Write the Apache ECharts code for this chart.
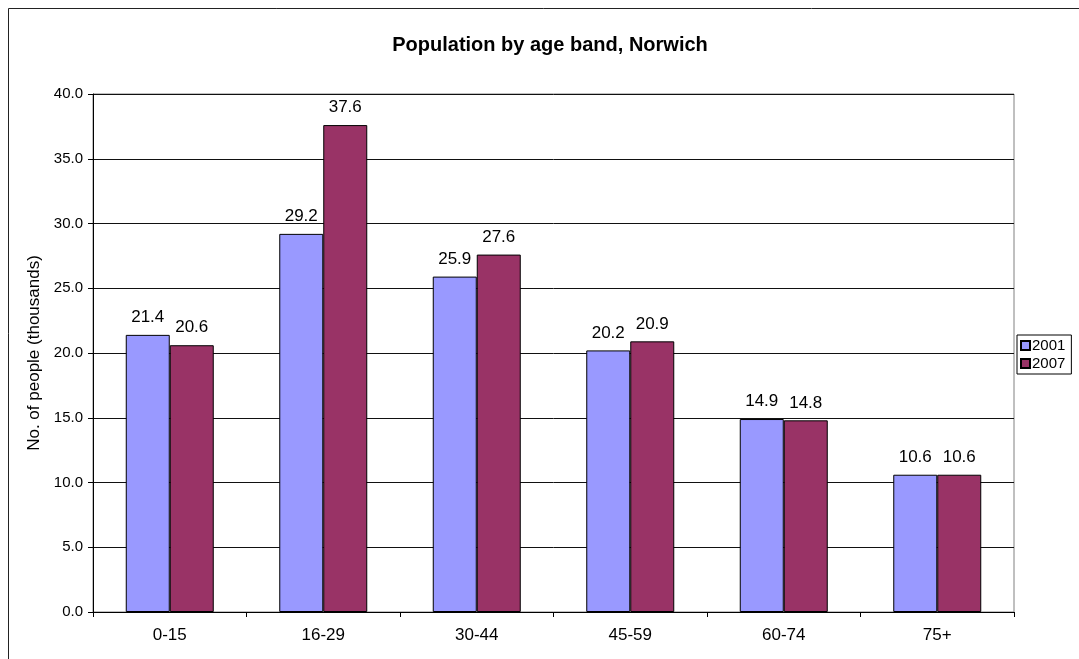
<!DOCTYPE html>
<html>
<head>
<meta charset="utf-8">
<script src="https://cdn.jsdelivr.net/npm/echarts@6/dist/echarts.min.js"></script>
<style>
  html, body { margin: 0; padding: 0; background: #fff; }
  #chart { width: 1079px; height: 659px; }
</style>
</head>
<body>
<div id="chart"></div>
<script>
// Population by age band in Norwich, thousands
const ageBands = ['0-15', '16-29', '30-44', '45-59', '60-74', '75+'];
const pop2001 = [21.4, 29.2, 25.9, 20.2, 14.9, 10.6];
const pop2007 = [20.6, 37.6, 27.6, 20.9, 14.8, 10.6];
const yTicks = { min: 0, max: 40, interval: 5 };

const font = 'Liberation Sans, Arial, sans-serif';
const chart = echarts.init(document.getElementById('chart'), null, { renderer: 'canvas' });

const barLabel = {
  show: true,
  position: 'top',
  distance: 9,
  color: '#000',
  fontFamily: font,
  fontSize: 17,
  formatter: p => p.value.toFixed(1)
};

chart.setOption({
  animation: false,
  backgroundColor: '#fff',
  title: {
    text: 'Population by age band, Norwich',
    left: 545,
    textAlign: 'center',
    top: 30,
    textStyle: { fontFamily: font, fontSize: 20, fontWeight: 'bold', color: '#000' }
  },
  graphic: [
    { type: 'line', shape: { x1: 8.5, y1: 8.5, x2: 1079, y2: 8.5 }, style: { stroke: '#222', lineWidth: 1 } },
    { type: 'line', shape: { x1: 8.5, y1: 8.5, x2: 8.5, y2: 659 }, style: { stroke: '#222', lineWidth: 1 } }
  ],
  legend: {
    orient: 'vertical',
    left: 1017,
    top: 335,
    itemWidth: 9,
    itemHeight: 9,
    itemGap: 3,
    padding: [3, 6, 3, 3],
    borderColor: '#000',
    borderWidth: 1,
    icon: 'rect',
    textStyle: { fontFamily: font, fontSize: 15, color: '#000', padding: [0, 0, 0, -3] },
    data: ['2001', '2007']
  },
  grid: {
    left: 93, right: 65, top: 94, bottom: 47,
    show: true, borderColor: '#808080', borderWidth: 1
  },
  xAxis: {
    type: 'category',
    data: ageBands,
    axisLine: { lineStyle: { color: '#000' } },
    axisTick: { show: true, length: 5, lineStyle: { color: '#000' } },
    axisLabel: { color: '#000', fontFamily: font, fontSize: 17, margin: 15 }
  },
  yAxis: {
    type: 'value',
    min: yTicks.min, max: yTicks.max, interval: yTicks.interval,
    name: 'No. of people (thousands)',
    nameLocation: 'middle',
    nameGap: 50,
    nameTextStyle: { fontFamily: font, fontSize: 17, color: '#000' },
    axisLine: { show: true, lineStyle: { color: '#000' } },
    axisTick: { show: true, length: 5, lineStyle: { color: '#000' } },
    axisLabel: { color: '#000', fontFamily: font, fontSize: 15, margin: 10, formatter: v => v.toFixed(1) },
    splitLine: { show: true, lineStyle: { color: '#111', width: 1 } }
  },
  series: [
    {
      name: '2001', type: 'bar', data: pop2001,
      barWidth: 44, barGap: '0%',
      itemStyle: { color: '#9999FF', borderColor: '#000', borderWidth: 1 },
      label: barLabel
    },
    {
      name: '2007', type: 'bar', data: pop2007,
      barWidth: 44, barGap: '0%',
      itemStyle: { color: '#993366', borderColor: '#000', borderWidth: 1 },
      label: barLabel
    }
  ]
});
</script>
</body>
</html>
